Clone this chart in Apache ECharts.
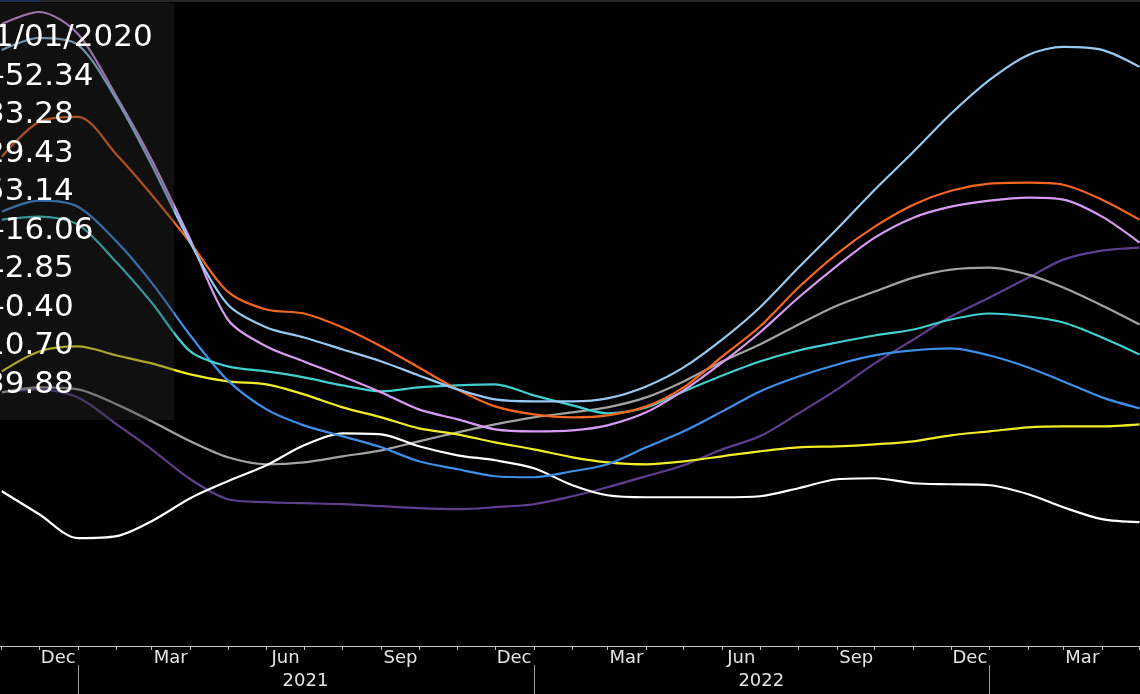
<!DOCTYPE html>
<html>
<head>
<meta charset="utf-8">
<style>
  html, body { margin: 0; padding: 0; background: #000; }
  #chart { width: 1140px; height: 694px; }
</style>
<script src="https://cdn.jsdelivr.net/npm/echarts@6/dist/echarts.min.js"></script>
</head>
<body>
<div id="chart"></div>
<script>
// month starts, Nov 2020 .. May 2023
const dates = [
  '2020-11-01', '2020-12-01',
  '2021-01-01', '2021-02-01', '2021-03-01', '2021-04-01', '2021-05-01', '2021-06-01',
  '2021-07-01', '2021-08-01', '2021-09-01', '2021-10-01', '2021-11-01', '2021-12-01',
  '2022-01-01', '2022-02-01', '2022-03-01', '2022-04-01', '2022-05-01', '2022-06-01',
  '2022-07-01', '2022-08-01', '2022-09-01', '2022-10-01', '2022-11-01', '2022-12-01',
  '2023-01-01', '2023-02-01', '2023-03-01', '2023-04-01', '2023-05-01'
]

// values (index units)
const lightBlue = [59.7, 60.9, 60.2, 54.7, 48.2, 40.4, 34.2, 31.9, 30.9, 29.7, 28.5, 27.1, 25.7, 24.7, 24.5, 24.5, 24.8, 26.0, 27.9, 30.7, 33.9, 37.9, 41.8, 45.7, 49.5, 53.3, 56.7, 59.2, 60.0, 59.7, 58.0]
const orange = [49.0, 52.5, 53.0, 49.2, 45.2, 40.4, 35.5, 33.7, 33.3, 31.9, 30.0, 27.9, 25.7, 24.0, 23.2, 22.9, 23.1, 24.0, 25.9, 29.0, 32.0, 35.9, 39.3, 42.0, 44.2, 45.6, 46.3, 46.4, 46.2, 44.7, 42.7]
const violet = [62.3, 63.5, 61.3, 55.0, 48.7, 40.7, 32.7, 30.0, 28.5, 27.0, 25.4, 23.7, 22.7, 21.7, 21.5, 21.6, 22.1, 23.4, 25.6, 28.4, 31.4, 34.9, 38.1, 40.9, 42.9, 44.0, 44.6, 44.9, 44.7, 43.0, 40.4]
const darkPurple = [25.4, 25.7, 24.9, 22.2, 19.7, 16.7, 14.7, 14.4, 14.3, 14.2, 14.0, 13.8, 13.7, 13.9, 14.2, 15.0, 15.9, 17.0, 18.1, 19.7, 21.0, 23.3, 25.7, 28.3, 30.7, 33.0, 34.9, 36.9, 38.7, 39.6, 39.9]
const gray = [25.4, 25.9, 25.7, 24.2, 22.5, 20.5, 18.9, 18.2, 18.4, 19.0, 19.6, 20.5, 21.4, 22.2, 22.9, 23.4, 23.9, 24.9, 26.5, 28.5, 30.2, 32.2, 34.1, 35.5, 36.9, 37.7, 37.9, 37.2, 35.9, 34.1, 32.2]
const teal = [42.7, 43.0, 42.2, 38.4, 34.4, 29.5, 28.0, 27.5, 26.9, 26.1, 25.5, 25.9, 26.1, 26.2, 25.1, 24.1, 23.3, 23.9, 25.5, 27.1, 28.5, 29.6, 30.4, 31.1, 31.7, 32.7, 33.3, 33.0, 32.4, 30.9, 29.2]
const blue = [43.5, 44.6, 44.0, 40.5, 36.4, 31.1, 26.6, 23.7, 22.1, 21.0, 19.9, 18.5, 17.7, 17.0, 16.9, 17.5, 18.2, 19.9, 21.5, 23.5, 25.5, 27.0, 28.2, 29.1, 29.6, 29.8, 29.1, 27.9, 26.5, 24.9, 23.8]
const yellow = [27.5, 29.5, 30.0, 29.1, 28.3, 27.2, 26.5, 26.2, 25.2, 23.9, 22.9, 21.8, 21.2, 20.4, 19.7, 18.9, 18.4, 18.2, 18.5, 19.0, 19.5, 19.9, 20.0, 20.2, 20.5, 21.1, 21.5, 21.9, 22.0, 22.0, 22.2]
const white = [15.5, 13.2, 10.8, 11.0, 12.5, 14.8, 16.5, 18.1, 20.1, 21.3, 21.2, 20.0, 19.1, 18.6, 17.8, 16.1, 15.1, 14.9, 14.9, 14.9, 15.0, 15.8, 16.7, 16.8, 16.3, 16.2, 16.1, 15.2, 13.9, 12.7, 12.4]

// tick labels
const monthNames = ['Jan', 'Feb', 'Mar', 'Apr', 'May', 'Jun', 'Jul', 'Aug', 'Sep', 'Oct', 'Nov', 'Dec']
const shownMonths = ['Mar', 'Jun', 'Sep', 'Dec']

// hover box text (left part is cut by the frame)
const tipDate = '11/01/2020'
const tipValues = ['\u201252.34', '33.28', '29.43', '53.14', '\u201216.06', '42.85', '\u20120.40', '10.70', '39.88']

const xMin = new Date(2020, 9, 29).getTime()
const xMax = new Date(2023, 4, 3).getTime()

const lines = [
  { data: darkPurple, color: '#5d3f8e' },
  { data: gray, color: '#a3a3a3' },
  { data: white, color: '#ffffff' },
  { data: yellow, color: '#f2ec26' },
  { data: blue, color: '#3d8fe8' },
  { data: teal, color: '#42cfd0' },
  { data: violet, color: '#d89bf3' },
  { data: orange, color: '#f3661f' },
  { data: lightBlue, color: '#98c9f2' }
]

const chart = echarts.init(document.getElementById('chart'))

// box over the left side, values drawn as text
const graphic = [
  { type: 'rect', z: 100, shape: { x: 0, y: 0, width: 1140, height: 2 }, style: { fill: '#262626' } },
  { type: 'rect', z: 101, shape: { x: 0, y: 0, width: 40, height: 2 }, style: { fill: '#1c2c52' } },
  { type: 'rect', z: 100, shape: { x: 0, y: 3, width: 174, height: 417 }, style: { fill: 'rgba(44,44,44,0.36)' } }
]
const rows = [tipDate].concat(tipValues)
rows.forEach((t, i) => {
  graphic.push({
    type: 'text',
    z: 102,
    x: i === 0 ? -26 : -15,
    y: 38 + 38.5 * i,
    style: { text: t, fill: '#ffffff', font: '31px "DejaVu Sans"', verticalAlign: 'middle' }
  })
})

const option = {
  backgroundColor: '#000',
  animation: false,
  grid: { left: -2, right: -2, top: 0, bottom: 48, outerBoundsMode: 'none', containLabel: false },
  xAxis: [
    {
      type: 'time',
      min: xMin,
      max: xMax,
      splitNumber: 30,
      axisLine: { show: true, lineStyle: { color: '#c4c4c4', width: 1 } },
      axisTick: { show: true, length: 4, lineStyle: { color: '#c4c4c4' } },
      splitLine: { show: false },
      axisLabel: {
        color: '#e4e4e4',
        fontFamily: 'DejaVu Sans',
        fontSize: 18,
        margin: 3,
        padding: [0, 0, 0, 38],
        hideOverlap: false,
        formatter: (val) => {
          const d = new Date(val)
          const m = monthNames[d.getMonth()]
          return d.getDate() === 1 && shownMonths.indexOf(m) >= 0 ? m : ''
        }
      }
    },
    {
      type: 'time',
      min: xMin,
      max: xMax,
      position: 'bottom',
      offset: 19,
      splitNumber: 2.5,
      axisLine: { show: false },
      axisTick: { show: true, length: 29, lineStyle: { color: '#9c9c9c' } },
      splitLine: { show: false },
      axisLabel: {
        color: '#e4e4e4',
        fontFamily: 'DejaVu Sans',
        fontSize: 18,
        margin: 7,
        padding: [0, 0, 0, 455],
        hideOverlap: false,
        formatter: (val) => {
          const d = new Date(val)
          return d.getMonth() === 0 && d.getDate() === 1 ? String(d.getFullYear()) : ''
        }
      }
    }
  ],
  yAxis: { type: 'value', min: 0, max: 64.7, show: false },
  series: lines.map((s) => ({
    type: 'line',
    xAxisIndex: 0,
    data: dates.map((d, i) => [d, s.data[i]]),
    smooth: 0.3,
    symbol: 'none',
    lineStyle: { color: s.color, width: 2.2 }
  })),
  graphic: graphic
}

chart.setOption(option)
</script>
</body>
</html>
